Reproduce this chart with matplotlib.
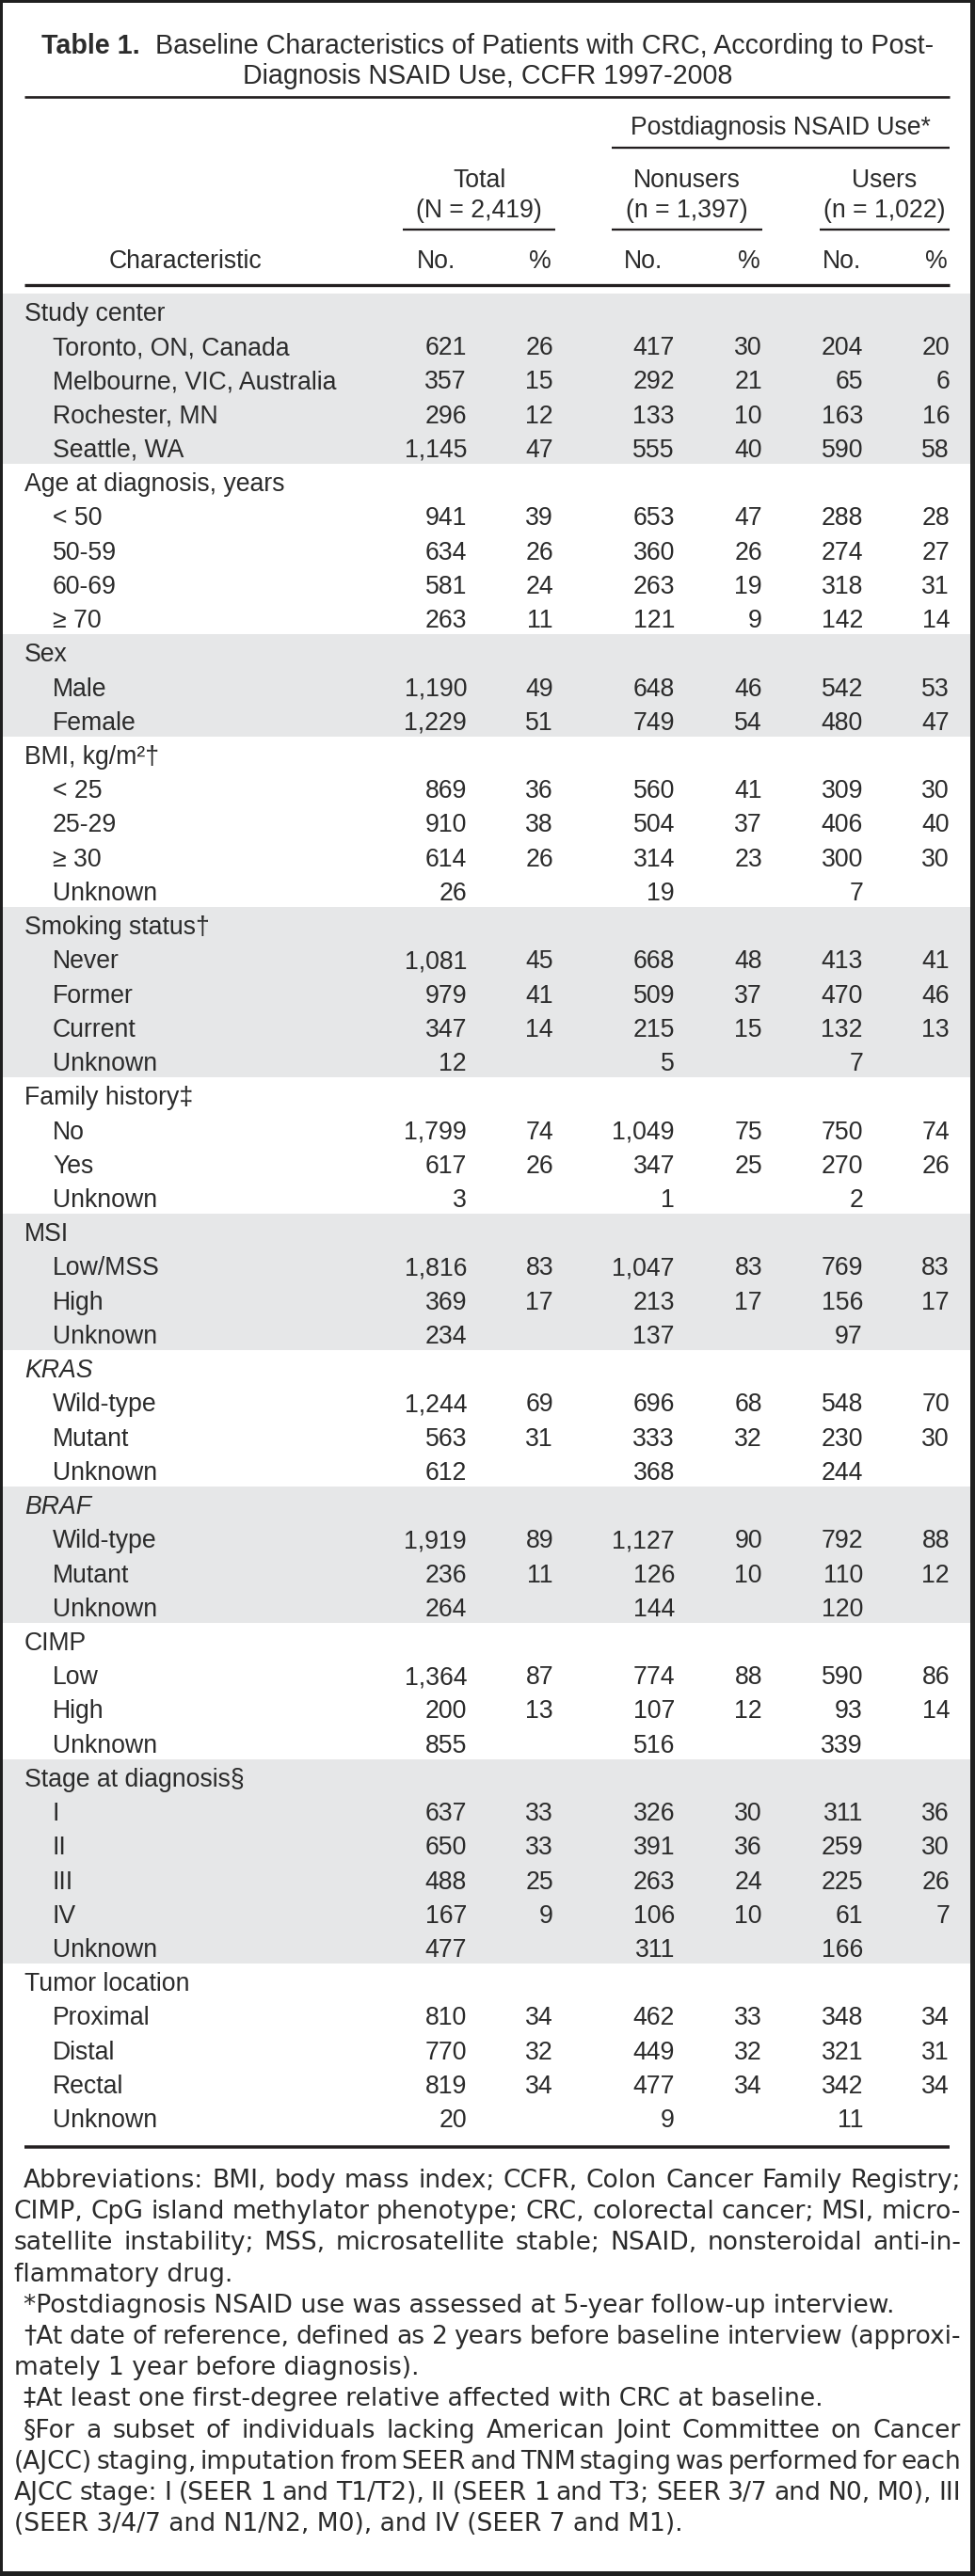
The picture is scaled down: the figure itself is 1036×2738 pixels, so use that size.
import matplotlib
matplotlib.use("Agg")
import matplotlib.pyplot as plt
from matplotlib.patches import Rectangle

# figure size in pixels (dpi 100 -> 1 data unit = 1 px)
W, H = 1036, 2738
INK = "#231f20"
TEXT = "#2b2b2b"
BAND = "#e6e7e8"
FRAME = "#1f1f1f"
FAM = ["Liberation Sans", "DejaVu Sans"]
NOTE_FAM = ["DejaVu Sans"]

# ---- text / data ----
title_bold = "Table 1."
title_line1 = "Baseline Characteristics of Patients with CRC, According to Post-"
title_line2 = "Diagnosis NSAID Use, CCFR 1997-2008"
spanner = "Postdiagnosis NSAID Use*"
col_names = ["Total", "Nonusers", "Users"]
col_ns = ["(N = 2,419)", "(n = 1,397)", "(n = 1,022)"]

# rows: label, total no., total %, nonusers no., nonusers %, users no., users %
study_center = [
    ("Toronto, ON, Canada", 621, 26, 417, 30, 204, 20),
    ("Melbourne, VIC, Australia", 357, 15, 292, 21, 65, 6),
    ("Rochester, MN", 296, 12, 133, 10, 163, 16),
    ("Seattle, WA", 1145, 47, 555, 40, 590, 58),
]
age = [
    ("< 50", 941, 39, 653, 47, 288, 28),
    ("50-59", 634, 26, 360, 26, 274, 27),
    ("60-69", 581, 24, 263, 19, 318, 31),
    ("\u2265 70", 263, 11, 121, 9, 142, 14),
]
sex = [
    ("Male", 1190, 49, 648, 46, 542, 53),
    ("Female", 1229, 51, 749, 54, 480, 47),
]
bmi = [
    ("< 25", 869, 36, 560, 41, 309, 30),
    ("25-29", 910, 38, 504, 37, 406, 40),
    ("\u2265 30", 614, 26, 314, 23, 300, 30),
    ("Unknown", 26, None, 19, None, 7, None),
]
smoking = [
    ("Never", 1081, 45, 668, 48, 413, 41),
    ("Former", 979, 41, 509, 37, 470, 46),
    ("Current", 347, 14, 215, 15, 132, 13),
    ("Unknown", 12, None, 5, None, 7, None),
]
family = [
    ("No", 1799, 74, 1049, 75, 750, 74),
    ("Yes", 617, 26, 347, 25, 270, 26),
    ("Unknown", 3, None, 1, None, 2, None),
]
msi = [
    ("Low/MSS", 1816, 83, 1047, 83, 769, 83),
    ("High", 369, 17, 213, 17, 156, 17),
    ("Unknown", 234, None, 137, None, 97, None),
]
kras = [
    ("Wild-type", 1244, 69, 696, 68, 548, 70),
    ("Mutant", 563, 31, 333, 32, 230, 30),
    ("Unknown", 612, None, 368, None, 244, None),
]
braf = [
    ("Wild-type", 1919, 89, 1127, 90, 792, 88),
    ("Mutant", 236, 11, 126, 10, 110, 12),
    ("Unknown", 264, None, 144, None, 120, None),
]
cimp = [
    ("Low", 1364, 87, 774, 88, 590, 86),
    ("High", 200, 13, 107, 12, 93, 14),
    ("Unknown", 855, None, 516, None, 339, None),
]
stage = [
    ("I", 637, 33, 326, 30, 311, 36),
    ("II", 650, 33, 391, 36, 259, 30),
    ("III", 488, 25, 263, 24, 225, 26),
    ("IV", 167, 9, 106, 10, 61, 7),
    ("Unknown", 477, None, 311, None, 166, None),
]
tumor = [
    ("Proximal", 810, 34, 462, 33, 348, 34),
    ("Distal", 770, 32, 449, 32, 321, 31),
    ("Rectal", 819, 34, 477, 34, 342, 34),
    ("Unknown", 20, None, 9, None, 11, None),
]

# group title, italic?, rows
groups = [
    ("Study center", False, study_center),
    ("Age at diagnosis, years", False, age),
    ("Sex", False, sex),
    ("BMI, kg/m\u00b2\u2020", False, bmi),
    ("Smoking status\u2020", False, smoking),
    ("Family history\u2021", False, family),
    ("MSI", False, msi),
    ("KRAS", True, kras),
    ("BRAF", True, braf),
    ("CIMP", False, cimp),
    ("Stage at diagnosis\u00a7", False, stage),
    ("Tumor location", False, tumor),
]

# footnote lines: (text, indented first line?, justified?)
footnotes = [
    ("Abbreviations: BMI, body mass index; CCFR, Colon Cancer Family Registry;", True, True),
    ("CIMP, CpG island methylator phenotype; CRC, colorectal cancer; MSI, micro-", False, True),
    ("satellite instability; MSS, microsatellite stable; NSAID, nonsteroidal anti-in-", False, True),
    ("flammatory drug.", False, False),
    ("*Postdiagnosis NSAID use was assessed at 5-year follow-up interview.", True, False),
    ("\u2020At date of reference, defined as 2 years before baseline interview (approxi-", True, True),
    ("mately 1 year before diagnosis).", False, False),
    ("\u2021At least one first-degree relative affected with CRC at baseline.", True, False),
    ("\u00a7For a subset of individuals lacking American Joint Committee on Cancer", True, True),
    ("(AJCC) staging, imputation from SEER and TNM staging was performed for each", False, True),
    ("AJCC stage: I (SEER 1 and T1/T2), II (SEER 1 and T3; SEER 3/7 and N0, M0), III", False, True),
    ("(SEER 3/4/7 and N1/N2, M0), and IV (SEER 7 and M1).", False, False),
]

# ---- layout ----
BODY = 19.2
TITLE = 20.6
ROW0 = 312
PITCH = 36.23
LEFT, RIGHT = 26, 1009
col_right = [496, 588, 717, 810, 917, 1009]
no_left = [443, 663, 874]
col_center = [509, 730, 940]
col_rules = [(428, 590), (650, 810), (871, 1009)]

fig = plt.figure(figsize=(W / 100, H / 100), dpi=100)
ax = fig.add_axes([0, 0, 1, 1])
ax.set_xlim(0, W)
ax.set_ylim(H, 0)
ax.axis("off")
renderer = fig.canvas.get_renderer()


def txt(x, y, s, size=BODY, ha="left", family=FAM, **kw):
    return ax.text(x, y, s, fontsize=size, ha=ha, va="baseline",
                   color=TEXT, family=family, **kw)


def hline(y, x0, x1, px):
    ax.plot([x0, x1], [y, y], color=INK, lw=px * 0.72, solid_capstyle="butt")


def width(t):
    return t.get_window_extent(renderer).width


# title
tb = txt(0, 57, title_bold, size=TITLE, weight="bold")
tr = txt(0, 57, title_line1, size=TITLE)
gap = 17
total_w = width(tb) + gap + width(tr)
x0 = 518 - total_w / 2
tb.set_x(x0)
tr.set_x(x0 + width(tb) + gap)
txt(518, 89, title_line2, size=TITLE, ha="center")

# header
hline(103, LEFT, RIGHT, 2.7)
txt(829, 143, spanner, ha="center")
hline(157, 650, RIGHT, 2.3)
for name, n, cx, (a, b) in zip(col_names, col_ns, col_center, col_rules):
    txt(cx, 199, name, ha="center")
    txt(cx, 231, n, ha="center")
    hline(244, a, b, 2.3)
txt(197, 285, "Characteristic", ha="center")
for i in range(3):
    txt(no_left[i], 285, "No.")
    txt(col_right[2 * i + 1] - 2, 285, "%", ha="right")
hline(303, LEFT, RIGHT, 3.3)

# body
k = 0
for gi, (gname, italic, rows) in enumerate(groups):
    top = ROW0 + k * PITCH
    nrows = 1 + len(rows)
    if gi % 2 == 0:
        ax.add_patch(Rectangle((3, top), W - 8, nrows * PITCH,
                               facecolor=BAND, lw=0, zorder=0))
    txt(LEFT, top + 29, gname, style="italic" if italic else "normal")
    for j, row in enumerate(rows):
        base = top + (j + 1) * PITCH + 29
        txt(56, base, row[0])
        for c, val in enumerate(row[1:]):
            if val is None:
                continue
            txt(col_right[c], base, f"{val:,}", ha="right")
    k += nrows

hline(2282, LEFT, RIGHT, 3.5)

# footnotes: size picked so the plain "*Postdiagnosis" line is ~925 px wide
NL, NR, NIND = 15, 1021, 25
probe = txt(0, 0, footnotes[4][0], size=20, family=NOTE_FAM)
NOTE = 20 * 925 / width(probe)
probe.remove()

for i, (line, indent, justify) in enumerate(footnotes):
    y = 2325 + i * 33.2
    x0 = NIND if indent else NL
    if not justify:
        txt(x0, y, line, size=NOTE, family=NOTE_FAM)
        continue
    words = line.split(" ")
    size = NOTE
    ts = [txt(0, y, w, size=size, family=NOTE_FAM) for w in words]
    ws = [width(t) for t in ts]
    gap = (NR - x0 - sum(ws)) / (len(words) - 1)
    if gap < 4:
        size = NOTE * (NR - x0 - 4 * (len(words) - 1)) / sum(ws)
        for t in ts:
            t.set_fontsize(size)
        ws = [width(t) for t in ts]
        gap = (NR - x0 - sum(ws)) / (len(words) - 1)
    x = x0
    for t, w in zip(ts, ws):
        t.set_x(x)
        x += w + gap

# dark frame round the page
for (fx, fy, fw, fh) in [(0, 0, W, 3), (0, 0, 3, H), (W - 5, 0, 5, H), (0, H - 5, W, 5)]:
    ax.add_patch(Rectangle((fx, fy), fw, fh, facecolor=FRAME, lw=0, zorder=5))

fig.savefig("out.png", dpi=100, facecolor="white")
